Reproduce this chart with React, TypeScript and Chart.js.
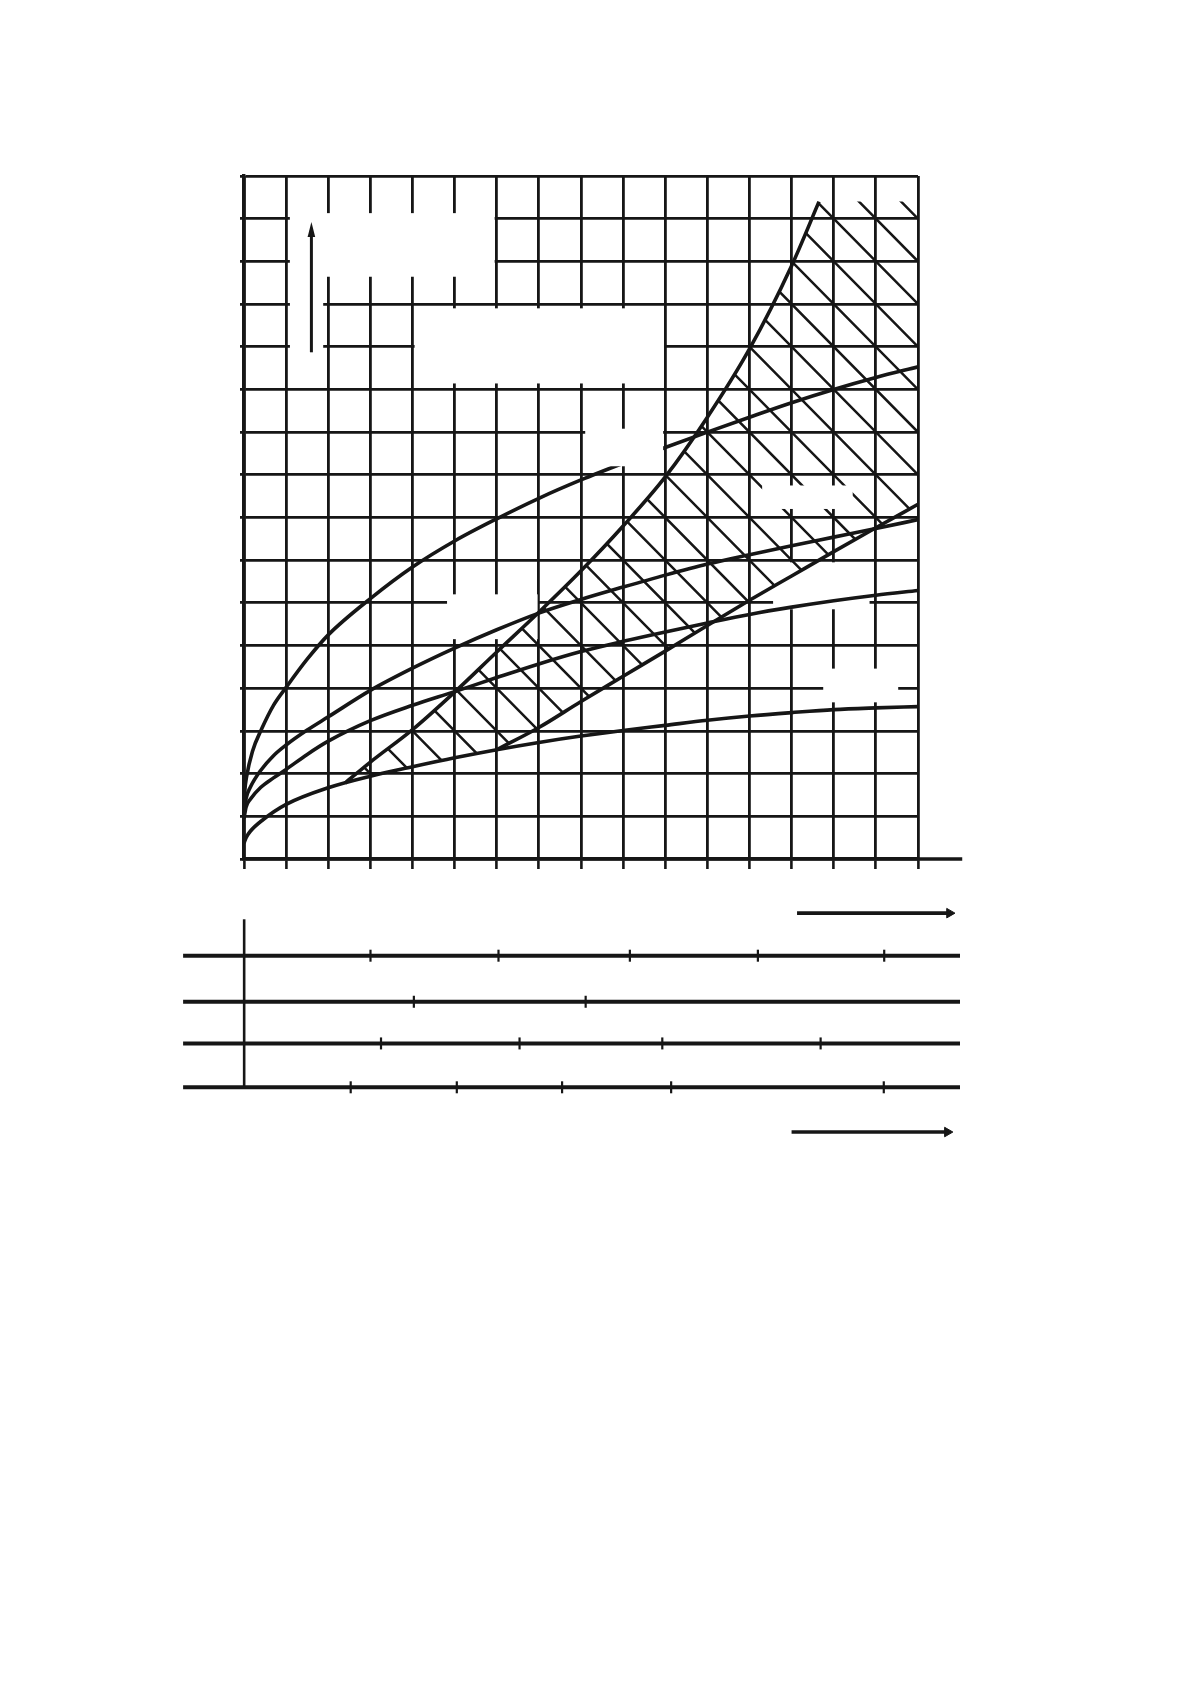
import React, { useEffect, useRef } from "react";
import { Chart, registerables } from "chart.js";

Chart.register(...registerables);

const INK = "#161616";

type Pt = [number, number];

// ---- upper diagram: grid units (16 x 16 cells) ----
const X_RANGE: Pt = [0, 16];
const Y_RANGE: Pt = [0, 16];
const X_AXIS_END = 17.05;

const CURVE_A: Pt[] = [
  [0, 1.15], [0.02, 1.6], [0.06, 1.92], [0.2, 2.52], [0.42, 3.05], [0.7, 3.6], [1, 4.02],
  [1.5, 4.68], [2, 5.25], [3, 6.1], [4, 6.84], [5, 7.45], [6, 7.97], [7, 8.45], [8, 8.88],
  [9, 9.27], [10, 9.64], [11, 10.0], [12, 10.35], [13, 10.69], [14, 11.0], [15, 11.28],
  [16, 11.53],
];
const CURVE_B: Pt[] = [
  [0, 1.05], [0.05, 1.42], [0.15, 1.68], [0.4, 2.08], [0.7, 2.42], [1, 2.67], [1.5, 3.02],
  [2, 3.33], [3, 3.95], [4, 4.47], [5, 4.94], [6, 5.37], [7, 5.76], [8, 6.08], [9, 6.37],
  [10, 6.65], [11, 6.91], [12, 7.13], [13, 7.34], [14, 7.54], [15, 7.74], [16, 7.95],
];
const CURVE_C: Pt[] = [
  [0, 0.95], [0.05, 1.22], [0.15, 1.4], [0.4, 1.68], [0.7, 1.9], [1, 2.1], [1.5, 2.45],
  [2, 2.76], [3, 3.24], [4, 3.6], [5, 3.92], [6, 4.25], [7, 4.57], [8, 4.86], [9, 5.1],
  [10, 5.32], [11, 5.53], [12, 5.73], [13, 5.9], [14, 6.05], [15, 6.18], [16, 6.29],
];
const CURVE_D: Pt[] = [
  [0, 0.37], [0.05, 0.5], [0.15, 0.65], [0.45, 0.92], [1, 1.28], [2, 1.67], [3, 1.94],
  [4, 2.16], [5, 2.37], [6, 2.56], [7, 2.73], [8, 2.88], [9, 3.01], [10, 3.13], [11, 3.25],
  [12, 3.35], [13, 3.43], [14, 3.5], [15, 3.54], [16, 3.57],
];
// upper boundary of the hatched zone
const CURVE_E: Pt[] = [
  [2.4, 1.78], [3, 2.27], [4, 3.03], [5, 3.91], [6, 4.85], [7, 5.78], [8, 6.75],
  [9, 7.8], [10, 8.95], [11, 10.35], [12, 11.95], [13, 13.9], [13.65, 15.4],
];
// lower boundary of the hatched zone (branches off curve D)
const CURVE_F: Pt[] = [
  [6, 2.56], [7, 3.08], [8, 3.69], [9, 4.28], [10, 4.87], [11, 5.47], [12, 6.06],
  [13, 6.63], [14, 7.2], [15, 7.76], [16, 8.31],
];

const HATCH_K: Pt = [0, 32]; // hatch lines x + y = k
const HATCH_STEP = 1;

// erased label areas [x1, x2, y1, y2] (grid units)
const ERASED_UNDER: number[][] = [
  [1.09, 5.95, 13.64, 15.13],
  [1.09, 1.88, 11.45, 15.13],
  [4.05, 9.97, 11.14, 12.9],
  [4.82, 6.97, 5.15, 6.2],
  [13.75, 15.53, 3.67, 4.46],
  [12.56, 14.85, 5.85, 6.95],
];
const ERASED_OVER: number[][] = [
  [8.1, 9.95, 9.2, 10.08],
  [12.3, 14.45, 8.2, 8.75],
];

const Y_ARROW = { x: 1.6, from: 11.87, to: 14.92 };

// ---- lower scale diagram ----
const NOMO_X: Pt = [-1.5, 17];
const NOMO_Y: Pt = [-1.5, 4.5];
const NOMO_LEVELS = [3.0, 1.95, 1.0, 0];
const NOMO_SPAN: Pt = [-1.45, 17.0];
const NOMO_AXIS_TOP = 3.83;
const NOMO_TICKS_1 = [3.0, 6.04, 9.16, 12.2, 15.2];
const NOMO_TICKS_2 = [4.03, 8.11];
const NOMO_TICKS_3 = [3.25, 6.54, 9.93, 13.69];
const NOMO_TICKS_4 = [2.53, 5.05, 7.55, 10.14, 15.19];
const ARROW_1 = { y: 3.97, from: 13.13, to: 16.75 };
const ARROW_2 = { y: -1.02, from: 13.0, to: 16.7 };

const toXY = (pts: Pt[]) => pts.map(([x, y]) => ({ x, y }));

const curveDs = (label: string, pts: Pt[]) => ({
  label,
  data: toXY(pts),
  borderColor: INK,
  borderWidth: 3.6,
  pointRadius: 0,
  fill: false,
  cubicInterpolationMode: "monotone",
});

const IDX_D = 3;
const IDX_E = 4;
const IDX_F = 5;

function fillBox(chart: any, b: number[]) {
  const { x, y } = chart.scales;
  const x1 = x.getPixelForValue(b[0]);
  const x2 = x.getPixelForValue(b[1]);
  const y1 = y.getPixelForValue(b[3]);
  const y2 = y.getPixelForValue(b[2]);
  chart.ctx.fillStyle = "#ffffff";
  chart.ctx.fillRect(x1, y1, x2 - x1, y2 - y1);
}

const topDecor = {
  id: "topDecor",
  beforeDatasetsDraw(chart: any) {
    const ctx = chart.ctx;
    ctx.save();
    ERASED_UNDER.forEach((b) => fillBox(chart, b));
    ctx.restore();
  },
  afterDatasetsDraw(chart: any) {
    const ctx = chart.ctx;
    const { x, y } = chart.scales;
    const { left, right, top, bottom } = chart.chartArea;
    const lineE = chart.getDatasetMeta(IDX_E).dataset;
    const lineD = chart.getDatasetMeta(IDX_D).dataset;
    const lineF = chart.getDatasetMeta(IDX_F).dataset;
    const peak = CURVE_E[CURVE_E.length - 1];

    // hatched zone
    ctx.save();
    ctx.beginPath();
    lineE.path(ctx);
    ctx.lineTo(right, y.getPixelForValue(peak[1]));
    ctx.lineTo(right, bottom);
    ctx.lineTo(x.getPixelForValue(CURVE_E[0][0]), bottom);
    ctx.closePath();
    ctx.clip();
    ctx.beginPath();
    lineD.path(ctx);
    ctx.lineTo(right, top);
    ctx.lineTo(left, top);
    ctx.closePath();
    ctx.clip();
    ctx.beginPath();
    lineF.path(ctx);
    ctx.lineTo(right, top);
    ctx.lineTo(left, top);
    ctx.lineTo(left, bottom);
    ctx.lineTo(x.getPixelForValue(CURVE_F[0][0]), bottom);
    ctx.closePath();
    ctx.clip();
    ctx.strokeStyle = INK;
    ctx.lineWidth = 2.5;
    ctx.beginPath();
    for (let k = HATCH_K[0]; k <= HATCH_K[1]; k += HATCH_STEP) {
      ctx.moveTo(x.getPixelForValue(k - Y_RANGE[1]), y.getPixelForValue(Y_RANGE[1]));
      ctx.lineTo(x.getPixelForValue(k), y.getPixelForValue(Y_RANGE[0]));
    }
    ctx.stroke();
    ctx.restore();

    ctx.save();
    ERASED_OVER.forEach((b) => fillBox(chart, b));

    // vertical arrow
    ctx.strokeStyle = INK;
    ctx.fillStyle = INK;
    ctx.lineWidth = 3;
    const ax = x.getPixelForValue(Y_ARROW.x);
    const ay1 = y.getPixelForValue(Y_ARROW.from);
    const ay2 = y.getPixelForValue(Y_ARROW.to);
    ctx.beginPath();
    ctx.moveTo(ax, ay1);
    ctx.lineTo(ax, ay2 + 8);
    ctx.stroke();
    ctx.beginPath();
    ctx.moveTo(ax, ay2);
    ctx.lineTo(ax - 3.8, ay2 + 15);
    ctx.lineTo(ax + 3.8, ay2 + 15);
    ctx.closePath();
    ctx.fill();

    // extension of the bottom axis
    ctx.lineWidth = 3.4;
    ctx.beginPath();
    ctx.moveTo(right - 1, y.getPixelForValue(0));
    ctx.lineTo(x.getPixelForValue(X_AXIS_END), y.getPixelForValue(0));
    ctx.stroke();
    ctx.restore();
  },
};

export default function App() {
  const topRef = useRef<HTMLCanvasElement>(null);
  const nomoRef = useRef<HTMLCanvasElement>(null);

  useEffect(() => {
    const topChart = new Chart(topRef.current as HTMLCanvasElement, {
      type: "line",
      data: {
        datasets: [
          curveDs("A", CURVE_A),
          curveDs("B", CURVE_B),
          curveDs("C", CURVE_C),
          curveDs("D", CURVE_D),
          curveDs("E", CURVE_E),
          curveDs("F", CURVE_F),
        ] as any,
      },
      options: {
        responsive: false,
        animation: false,
        devicePixelRatio: 1,
        events: [],
        layout: { padding: { left: 244, top: 176, right: 272, bottom: 11 } },
        plugins: { legend: { display: false }, tooltip: { enabled: false } },
        scales: {
          x: {
            type: "linear",
            min: X_RANGE[0],
            max: X_RANGE[1],
            ticks: { stepSize: 1, display: false },
            grid: { color: INK, lineWidth: 2.8, drawTicks: true, tickLength: 10, tickWidth: 2.6 },
            border: { display: true, color: INK, width: 3.4 },
            afterFit: (s: any) => {
              s.height = 10;
            },
          },
          y: {
            type: "linear",
            min: Y_RANGE[0],
            max: Y_RANGE[1],
            ticks: { stepSize: 1, display: false },
            grid: { color: INK, lineWidth: 2.8, drawTicks: true, tickLength: 4 },
            border: { display: true, color: INK, width: 3.4 },
            afterFit: (s: any) => {
              s.width = 0;
            },
          },
        },
      } as any,
      plugins: [topDecor],
    });

    const nomoLine = (lv: number) => ({
      data: [
        { x: NOMO_SPAN[0], y: lv },
        { x: NOMO_SPAN[1], y: lv },
      ],
      borderColor: INK,
      borderWidth: 4,
      pointRadius: 0,
    });
    const tickDs = (lv: number, ticks: number[]) => ({
      data: ticks.map((t) => ({ x: t, y: lv })),
      showLine: false,
      pointStyle: "line",
      rotation: 90,
      pointRadius: 6,
      pointBorderWidth: 2.2,
      borderColor: INK,
      pointBorderColor: INK,
    });
    const arrowDs = (a: { y: number; from: number; to: number }) => ({
      data: [
        { x: a.from, y: a.y },
        { x: a.to, y: a.y },
      ],
      borderColor: INK,
      borderWidth: 3.6,
      pointRadius: [0, 5.5],
      pointStyle: "triangle",
      rotation: 90,
      pointBackgroundColor: INK,
      pointBorderColor: INK,
      pointBorderWidth: 1,
    });

    const nomoChart = new Chart(nomoRef.current as HTMLCanvasElement, {
      type: "line",
      data: {
        datasets: [
          ...NOMO_LEVELS.map(nomoLine),
          {
            data: [
              { x: 0, y: NOMO_LEVELS[3] },
              { x: 0, y: NOMO_AXIS_TOP },
            ],
            borderColor: INK,
            borderWidth: 2.6,
            pointRadius: 0,
          },
          tickDs(NOMO_LEVELS[0], NOMO_TICKS_1),
          tickDs(NOMO_LEVELS[1], NOMO_TICKS_2),
          tickDs(NOMO_LEVELS[2], NOMO_TICKS_3),
          tickDs(NOMO_LEVELS[3], NOMO_TICKS_4),
          arrowDs(ARROW_1),
          arrowDs(ARROW_2),
        ] as any,
      },
      options: {
        responsive: false,
        animation: false,
        devicePixelRatio: 1,
        events: [],
        layout: { padding: { left: 181, top: 9.9, right: 230, bottom: 26.9 } },
        plugins: { legend: { display: false }, tooltip: { enabled: false } },
        scales: {
          x: { type: "linear", min: NOMO_X[0], max: NOMO_X[1], display: false },
          y: { type: "linear", min: NOMO_Y[0], max: NOMO_Y[1], display: false },
        },
      } as any,
    });

    return () => {
      topChart.destroy();
      nomoChart.destroy();
    };
  }, []);

  return (
    <div
      style={{
        position: "absolute",
        left: 0,
        top: 0,
        width: 1190,
        height: 1684,
        background: "#ffffff",
      }}
    >
      <canvas
        ref={topRef}
        width={1190}
        height={880}
        style={{ position: "absolute", left: 0, top: 0, width: 1190, height: 880 }}
      />
      <canvas
        ref={nomoRef}
        width={1190}
        height={300}
        style={{ position: "absolute", left: 0, top: 880, width: 1190, height: 300 }}
      />
    </div>
  );
}
